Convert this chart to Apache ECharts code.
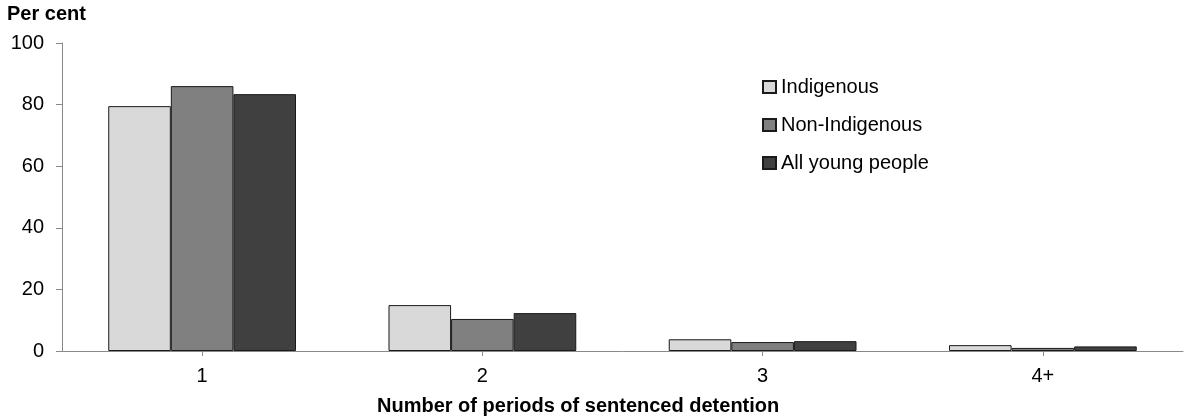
<!DOCTYPE html>
<html>
<head>
<meta charset="utf-8">
<script src="https://cdn.jsdelivr.net/npm/echarts@6/dist/echarts.min.js"></script>
<style>
html,body{margin:0;padding:0;background:#fff;}
#chart{width:1188px;height:420px;}
</style>
</head>
<body>
<div id="chart"></div>
<script>
const categories = ['1', '2', '3', '4+'];
const indigenous = [79.5, 14.9, 3.8, 1.9];
const nonIndigenous = [86.0, 10.4, 2.9, 1.0];
const allYoung = [83.4, 12.3, 3.2, 1.5];
const yTicks = { min: 0, max: 100, interval: 20 };

const font = '"Liberation Sans", Arial, sans-serif';
const chart = echarts.init(document.getElementById('chart'));
function bar(name, data, color) {
  return {
    name: name, type: 'bar', data: data,
    barGap: '0%', barCategoryGap: '33%',
    itemStyle: { color: color, borderColor: '#1a1a1a', borderWidth: 1 },
    emphasis: { disabled: true }
  };
}
chart.setOption({
  animation: false,
  textStyle: { fontFamily: font },
  grid: { left: 62, right: 5, top: 43, bottom: 69 },
  graphic: [{
    type: 'text', left: 7, top: 4,
    style: { text: 'Per cent', font: 'bold 20px ' + font, fill: '#000' }
  }, {
    type: 'text', left: 377, top: 396,
    style: { text: 'Number of periods of sentenced detention', font: 'bold 20px ' + font, fill: '#000' }
  }],
  legend: {
    orient: 'vertical', left: 757, top: 72,
    itemWidth: 13, itemHeight: 12, itemGap: 18,
    icon: 'rect',
    textStyle: { fontSize: 20, color: '#000', fontFamily: font },
    data: ['Indigenous', 'Non-Indigenous', 'All young people']
  },
  xAxis: {
    type: 'category', data: categories,
    axisLine: { lineStyle: { color: '#898989', width: 1 } },
    axisTick: { show: true, alignWithLabel: true, length: 5, lineStyle: { color: '#898989' } },
    axisLabel: { fontSize: 20, color: '#000', margin: 15, fontFamily: font }
  },
  yAxis: {
    type: 'value', min: yTicks.min, max: yTicks.max, interval: yTicks.interval,
    axisLine: { show: true, lineStyle: { color: '#898989', width: 1 } },
    axisTick: { show: true, length: 6, lineStyle: { color: '#898989' } },
    splitLine: { show: false },
    axisLabel: { fontSize: 20, color: '#000', margin: 18, fontFamily: font }
  },
  series: [
    bar('Indigenous', indigenous, '#d9d9d9'),
    bar('Non-Indigenous', nonIndigenous, '#808080'),
    bar('All young people', allYoung, '#404040')
  ]
});
</script>
</body>
</html>
